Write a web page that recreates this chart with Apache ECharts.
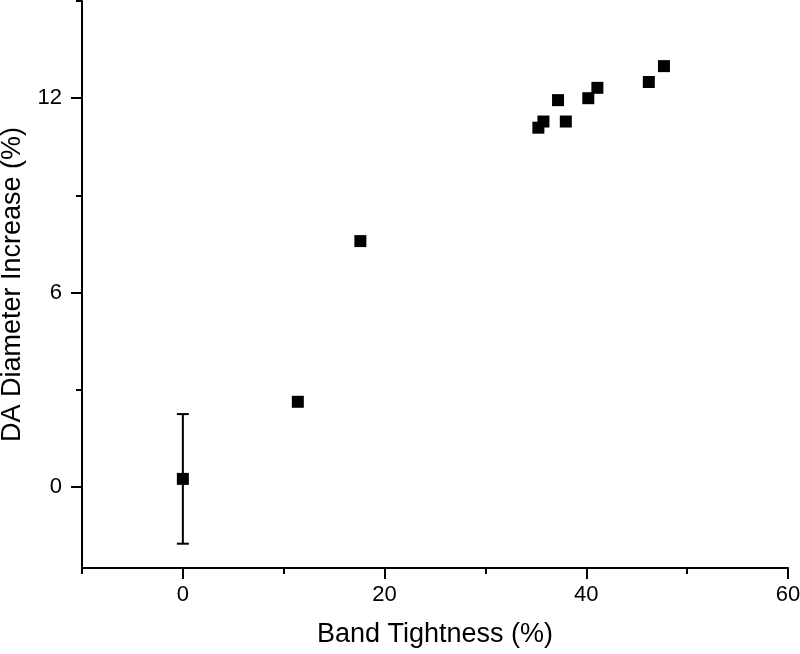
<!DOCTYPE html>
<html>
<head>
<meta charset="utf-8">
<script src="https://cdn.jsdelivr.net/npm/echarts@6/dist/echarts.min.js"></script>
<style>
html,body{margin:0;padding:0;background:#fff;}
#main{width:800px;height:654px;}
</style>
</head>
<body>
<div id="main"></div>
<script>
// band tightness (%) vs DA diameter increase (%)
var bandTightness = [0, 11.4, 17.6, 35.25, 35.75, 37.2, 37.97, 40.2, 41.1, 46.2, 47.7];
var diameterIncrease = [0.25, 2.63, 7.59, 11.09, 11.28, 11.94, 11.28, 12.0, 12.32, 12.5, 12.99];
// error bars (only the 0% point has a visible one)
var errX = [0];
var errY = [0.25];
var errSize = [2.0];

var xMajor = [0, 20, 40, 60];
var xMinor = [-10, 10, 30, 50];
var yMajor = [0, 6, 12];
var yMinor = [3, 9, 15];

var font = 'Liberation Sans, Arial, sans-serif';

var points = [];
for (var i = 0; i < bandTightness.length; i++) {
	points.push([bandTightness[i], diameterIncrease[i]]);
}
var errData = [];
for (var i = 0; i < errX.length; i++) {
	errData.push([errX[i], errY[i] - errSize[i], errY[i] + errSize[i]]);
}

var myChart = echarts.init(document.getElementById('main'));
var option = {
	backgroundColor: '#fff',
	animation: false,
	grid: {left: 82, right: 12, top: 1, bottom: 86, containLabel: false, outerBoundsMode: 'none'},
	xAxis: [
		{
			type: 'value', min: -10, max: 60,
			name: 'Band Tightness (%)', nameLocation: 'middle', nameGap: 53,
			nameTextStyle: {color: '#000', fontSize: 27, fontFamily: font},
			axisLine: {show: true, onZero: false, lineStyle: {color: '#000', width: 2}},
			axisTick: {show: true, inside: false, length: 11, lineStyle: {color: '#000', width: 2}, customValues: xMajor},
			axisLabel: {color: '#000', fontSize: 22, fontFamily: font, margin: 16, customValues: xMajor},
			splitLine: {show: false}
		},
		{
			type: 'value', min: -10, max: 60, position: 'bottom',
			axisLine: {show: false, onZero: false},
			axisTick: {show: true, inside: false, length: 6, lineStyle: {color: '#000', width: 2}, customValues: xMinor},
			axisLabel: {show: false},
			splitLine: {show: false}
		}
	],
	yAxis: [
		{
			type: 'value', min: -2.5, max: 15,
			name: 'DA Diameter Increase (%)', nameLocation: 'middle', nameGap: 56,
			nameTextStyle: {color: '#000', fontSize: 27, fontFamily: font},
			axisLine: {show: true, onZero: false, lineStyle: {color: '#000', width: 2}},
			axisTick: {show: true, inside: false, length: 11, lineStyle: {color: '#000', width: 2}, customValues: yMajor},
			axisLabel: {color: '#000', fontSize: 22, fontFamily: font, margin: 20, customValues: yMajor},
			splitLine: {show: false}
		},
		{
			type: 'value', min: -2.5, max: 15, position: 'left',
			axisLine: {show: false, onZero: false},
			axisTick: {show: true, inside: false, length: 6, lineStyle: {color: '#000', width: 2}, customValues: yMinor},
			axisLabel: {show: false},
			splitLine: {show: false}
		}
	],
	series: [
		{
			type: 'custom',
			xAxisIndex: 0, yAxisIndex: 0,
			z: 2,
			data: errData,
			renderItem: function (params, api) {
				var x = api.value(0);
				var lo = api.coord([x, api.value(1)]);
				var hi = api.coord([x, api.value(2)]);
				var half = 6;
				var style = {stroke: '#000', lineWidth: 2};
				return {
					type: 'group',
					children: [
						{type: 'line', shape: {x1: lo[0], y1: lo[1], x2: hi[0], y2: hi[1]}, style: style},
						{type: 'line', shape: {x1: lo[0] - half, y1: lo[1], x2: lo[0] + half, y2: lo[1]}, style: style},
						{type: 'line', shape: {x1: hi[0] - half, y1: hi[1], x2: hi[0] + half, y2: hi[1]}, style: style}
					]
				};
			}
		},
		{
			type: 'scatter',
			xAxisIndex: 0, yAxisIndex: 0,
			z: 3,
			symbol: 'rect',
			symbolSize: 12,
			itemStyle: {color: '#000', opacity: 1},
			data: points
		}
	]
};
myChart.setOption(option);
</script>
</body>
</html>
